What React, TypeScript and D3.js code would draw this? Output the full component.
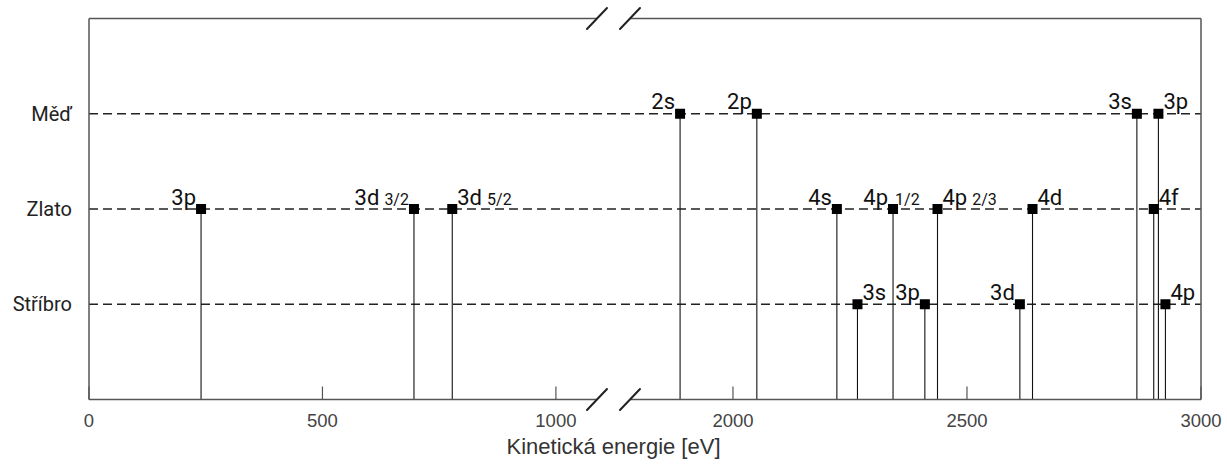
import React from "react";
import * as d3 from "d3";

const elements = ["Stříbro", "Zlato", "Měď"];

const copperEnergy = [1887, 2051, 2863, 2909];
const copperLabels = ["2s", "2p", "3s", "3p"];
const copperSides = ["left", "left", "left", "right"];

const goldEnergy = [240, 696, 778, 2222, 2342, 2437, 2640, 2899];
const goldLabels = ["3p", "3d 3/2", "3d 5/2", "4s", "4p 1/2", "4p 2/3", "4d", "4f"];
const goldSides = ["left", "left", "right", "left", "split", "right", "right", "right"];

const silverEnergy = [2266, 2410, 2613, 2924];
const silverLabels = ["3s", "3p", "3d", "4p"];
const silverSides = ["right", "left", "left", "right"];

const leftTicks = [0, 500, 1000];
const rightTicks = [2000, 2500, 3000];
const leftDomain = [0, 1088];
const rightDomain = [1780, 3000];

const W = 1227;
const H = 464;
const plot = { left: 89, right: 1201, top: 18.5, bottom: 399.5, breakL: 597, breakR: 630 };

const xLeft = d3.scaleLinear().domain(leftDomain).range([plot.left, plot.breakL]);
const xRight = d3.scaleLinear().domain(rightDomain).range([plot.breakR, plot.right]);
const x = (v: number) => (v <= leftDomain[1] ? xLeft(v) : xRight(v));
const y = d3.scaleLinear().domain([0, 4]).range([plot.bottom, plot.top]);

type Pt = { e: number; label: string; side: string; row: number };
const series: Pt[][] = [
  silverEnergy.map((e, i) => ({ e, label: silverLabels[i], side: silverSides[i], row: 1 })),
  goldEnergy.map((e, i) => ({ e, label: goldLabels[i], side: goldSides[i], row: 2 })),
  copperEnergy.map((e, i) => ({ e, label: copperLabels[i], side: copperSides[i], row: 3 })),
];
const points = series.flat();

const labelFont = "Roboto, 'Noto Sans', sans-serif";
const axisFont = "'Liberation Sans', Arial, sans-serif";

function PointLabel({ p }: { p: Pt }) {
  const px = x(p.e);
  const py = y(p.row) - 4.5;
  const [main, sub] = p.label.split(" ");
  if (p.side === "split") {
    return (
      <g fill="#111" fontFamily={labelFont}>
        <text x={px - 5} y={py} textAnchor="end" fontSize={22}>{main}</text>
        <text x={px + 2} y={py} textAnchor="start" fontSize={16}>{sub}</text>
      </g>
    );
  }
  const anchor = p.side === "left" ? "end" : "start";
  const tx = p.side === "left" ? px - 5 : px + 5;
  return (
    <text x={tx} y={py} textAnchor={anchor} fontSize={22} fill="#111" fontFamily={labelFont}>
      {main}
      {sub ? <tspan dx={5} fontSize={16}>{sub}</tspan> : null}
    </text>
  );
}

function Slash({ cx, cy }: { cx: number; cy: number }) {
  return <line x1={cx - 10} y1={cy + 10.5} x2={cx + 10} y2={cy - 10.5} stroke="#222" strokeWidth={2} strokeLinecap="round" />;
}

export default function App() {
  const frame = "#555";
  return (
    <svg width={W} height={H} style={{ position: "absolute", left: 0, top: 0, background: "#fff" }}>
      {/* dashed category lines */}
      {elements.map((name, i) => (
        <g key={name}>
          <line x1={plot.left} x2={plot.right} y1={y(i + 1)} y2={y(i + 1)} stroke="#222" strokeWidth={1.3} strokeDasharray="9,5" />
          <text x={72} y={y(i + 1)} dy="0.35em" textAnchor="end" fontSize={20} fill="#222" fontFamily={labelFont}>{name}</text>
        </g>
      ))}

      {/* ticks */}
      {leftTicks.map((t) => (
        <g key={t}>
          <line x1={xLeft(t)} x2={xLeft(t)} y1={plot.bottom} y2={plot.bottom - 13} stroke={frame} strokeWidth={1.2} />
          <text x={xLeft(t)} y={426.5} textAnchor="middle" fontSize={18.5} fill="#444" fontFamily={axisFont}>{t}</text>
        </g>
      ))}
      {rightTicks.map((t) => (
        <g key={t}>
          <line x1={xRight(t)} x2={xRight(t)} y1={plot.bottom} y2={plot.bottom - 13} stroke={frame} strokeWidth={1.2} />
          <text x={xRight(t)} y={426.5} textAnchor="middle" fontSize={18.5} fill="#444" fontFamily={axisFont}>{t}</text>
        </g>
      ))}

      {/* stems */}
      {points.map((p, i) => (
        <line key={"s" + i} x1={x(p.e)} x2={x(p.e)} y1={y(p.row)} y2={plot.bottom} stroke="#111" strokeWidth={1.1} />
      ))}

      {/* frame */}
      <line x1={plot.left} x2={plot.breakL} y1={plot.top} y2={plot.top} stroke={frame} strokeWidth={1.5} />
      <line x1={plot.breakR} x2={plot.right} y1={plot.top} y2={plot.top} stroke={frame} strokeWidth={1.5} />
      <line x1={plot.left} x2={plot.breakL} y1={plot.bottom} y2={plot.bottom} stroke={frame} strokeWidth={1.5} />
      <line x1={plot.breakR} x2={plot.right} y1={plot.bottom} y2={plot.bottom} stroke={frame} strokeWidth={1.5} />
      <line x1={plot.left} x2={plot.left} y1={plot.top} y2={plot.bottom} stroke={frame} strokeWidth={1.5} />
      <line x1={plot.right} x2={plot.right} y1={plot.top} y2={plot.bottom} stroke={frame} strokeWidth={1.5} />

      <Slash cx={plot.breakL} cy={plot.top} />
      <Slash cx={plot.breakR} cy={plot.top} />
      <Slash cx={plot.breakL} cy={plot.bottom} />
      <Slash cx={plot.breakR} cy={plot.bottom} />

      {/* markers */}
      {points.map((p, i) => (
        <rect key={"m" + i} x={x(p.e) - 5} y={y(p.row) - 5} width={10} height={10} fill="#000" />
      ))}

      {points.map((p, i) => (
        <PointLabel key={"l" + i} p={p} />
      ))}

      <text x={W / 2} y={454} textAnchor="middle" fontSize={22} fill="#333" fontFamily={axisFont}>Kinetická energie [eV]</text>
    </svg>
  );
}
